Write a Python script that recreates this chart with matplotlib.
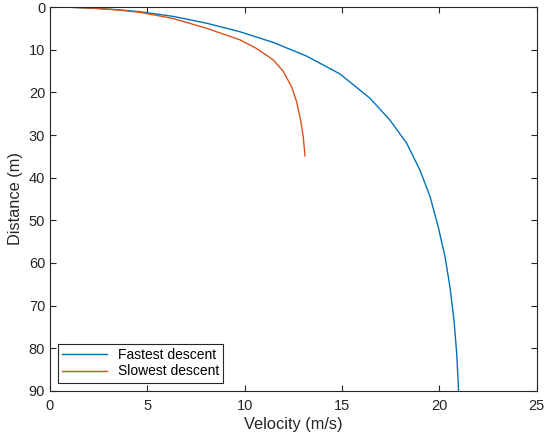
import matplotlib
matplotlib.use("Agg")
import matplotlib.pyplot as plt

# values (velocity in m/s, distance in m)
fast_v = [0, 1.0, 2.3, 3.5, 4.62, 6.33, 8.05, 9.76, 11.47, 13.18, 14.9, 16.44,
          17.46, 18.32, 19.0, 19.52, 19.94, 20.29, 20.54, 20.75, 20.89, 20.99]
fast_d = [0, 0.05, 0.3, 0.65, 1.1, 2.2, 3.8, 5.8, 8.3, 11.5, 15.7, 21.4,
          26.5, 31.9, 38.2, 44.4, 51.5, 58.5, 65.5, 73.3, 81.1, 90]
slow_v = [0, 1.0, 2.3, 3.5, 4.62, 6.33, 8.05, 9.76, 10.6, 11.47, 11.98, 12.41,
          12.67, 12.89, 13.01, 13.1]
slow_d = [0, 0.05, 0.3, 0.7, 1.25, 2.7, 5.0, 7.7, 9.7, 12.4, 15.1, 18.7,
          22.2, 26.9, 30.5, 34.9]

plt.rcParams.update({"font.family": ["Liberation Sans", "DejaVu Sans"],
                     "axes.edgecolor": "#262626", "xtick.color": "#262626",
                     "ytick.color": "#262626", "axes.linewidth": 0.8})

fig = plt.figure(figsize=(5.5, 4.44), dpi=100)
ax = fig.add_axes([0.0909, 0.1194, 0.8849, 0.8648])
ax.plot(fast_v, fast_d, color="#0072BD", lw=1.0, label="Fastest descent")
ax.plot(slow_v, slow_d, color="#D95319", lw=1.0, label="Slowest descent")

ax.set_xlim(0, 25)
ax.set_ylim(90, 0)
ax.set_xticks(range(0, 26, 5))
ax.set_yticks(range(0, 91, 10))
ax.tick_params(direction="in", top=True, right=True, labelsize=10.5, length=4,
               labelcolor="#262626")
ax.tick_params(axis="x", pad=6)
ax.set_xlabel("Velocity (m/s)", fontsize=11.8, color="#262626", labelpad=3)
ax.set_ylabel("Distance (m)", fontsize=11.8, color="#262626", labelpad=4)
leg = ax.legend(loc="lower left", fontsize=10, fancybox=False, framealpha=1,
                edgecolor="#262626", borderaxespad=0.6, handlelength=3.2,
                borderpad=0.3, labelspacing=0.2)
leg.get_frame().set_linewidth(0.8)

fig.savefig("out.png", dpi=100)
